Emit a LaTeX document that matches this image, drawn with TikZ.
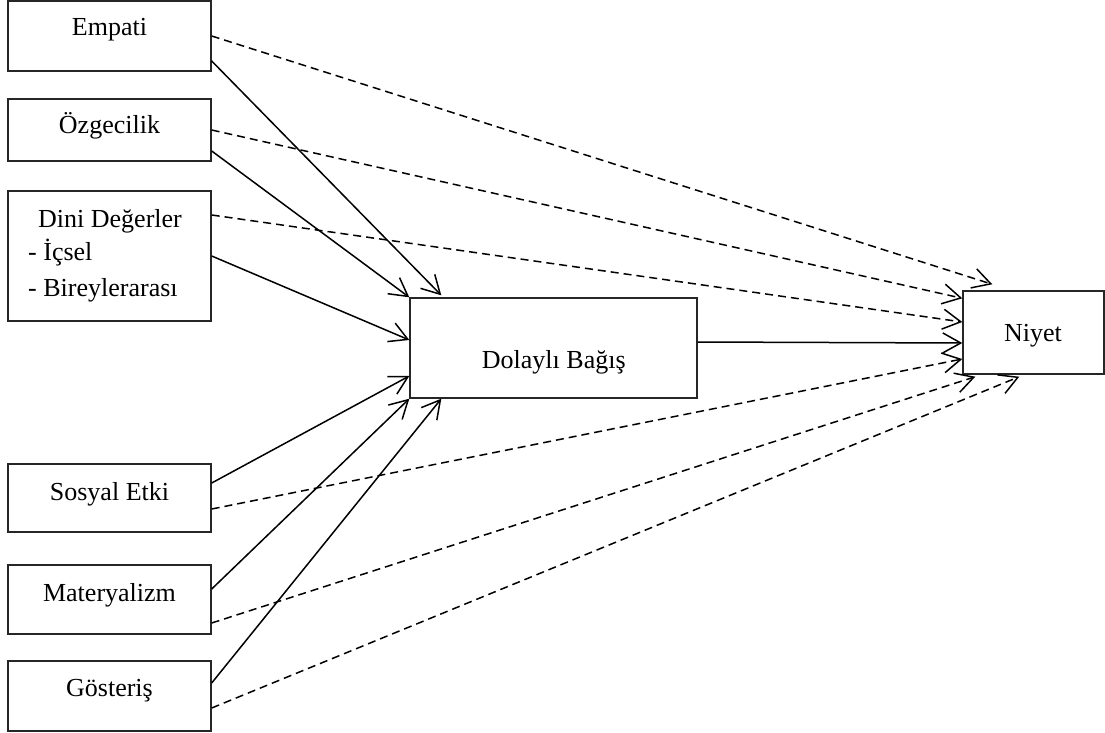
\documentclass[tikz,border=0pt]{standalone}
\usepackage{fontspec}
\setmainfont{Liberation Serif}
\usetikzlibrary{arrows.meta}
\begin{document}
\begin{tikzpicture}[x=1pt,y=-1pt,
  box/.style={draw=black!85, line width=1.4pt, rectangle, inner sep=0pt},
  txt/.style={anchor=base, inner sep=0pt, font=\fontsize{26}{34}\selectfont},
  ltxt/.style={txt, anchor=base west},
  link/.style={line width=1.5pt, line join=miter,
    -{Straight Barb[length=18pt,width=20pt,line width=1.5pt]}},
  direct/.style={link, dash pattern=on 8pt off 5pt}]
\useasboundingbox (0,0) rectangle (1105,733);

% predictor boxes
\node[box, minimum width=203pt, minimum height=70pt]  (emp)  at (109.5,36)  {};
\node[box, minimum width=203pt, minimum height=62pt]  (ozg)  at (109.5,130) {};
\node[box, minimum width=203pt, minimum height=130pt] (dini) at (109.5,256) {};
\node[box, minimum width=203pt, minimum height=68pt]  (sos)  at (109.5,498) {};
\node[box, minimum width=203pt, minimum height=69pt]  (mat)  at (109.5,599.5) {};
\node[box, minimum width=203pt, minimum height=70pt]  (gos)  at (109.5,696) {};

% mediator and outcome
\node[box, minimum width=287pt, minimum height=100pt] (dol) at (553.5,348) {};
\node[box, minimum width=141pt, minimum height=83pt]  (niy) at (1033.5,332.5) {};

% labels
\node[txt] (empT) at (109.5,36) {Empati};
\node[txt] (ozgT) at (109.5,133) {Özgecilik};
\node[txt] (diniT) at (110,227) {Dini Değerler};
\node[ltxt] (diniA) at (28,260) {- İçsel};
\node[ltxt] (diniB) at (28,296) {- Bireylerarası};
\node[txt] (sosT) at (109.5,500) {Sosyal Etki};
\node[txt] (matT) at (109.5,601) {Materyalizm};
\node[txt] (gosT) at (109.5,696) {Gösteriş};
\node[txt] (dolT) at (553.8,368) {Dolaylı Bağış};
\node[txt] (niyT) at (1033,341.5) {Niyet};

% paths through the mediator
\draw[link] ([yshift=-25pt]emp.east) -- ([xshift=32pt,yshift=2pt]dol.north west);
\draw[link] ([yshift=-21pt]ozg.east) -- (dol.north west);
\draw[link] (dini.east) -- ([yshift=8pt]dol.west);
\draw[link] ([yshift=15pt]sos.east) -- ([yshift=-28pt]dol.west);
\draw[link] ([yshift=10.5pt]mat.east) -- (dol.south west);
\draw[link] ([yshift=13pt]gos.east) -- ([xshift=32pt]dol.south west);
\draw[link] ([yshift=6pt]dol.east) -- ([yshift=-10.5pt]niy.west);

% direct paths to the outcome
\draw[direct] (emp.east) -- ([xshift=30pt,yshift=6pt]niy.north west);
\draw[direct] (ozg.east) -- ([yshift=-8pt]niy.north west);
\draw[direct] ([yshift=41pt]dini.east) -- ([yshift=10.5pt]niy.west);
\draw[direct] ([yshift=-11pt]sos.east) -- ([yshift=-26.5pt]niy.west);
\draw[direct] ([yshift=-23.5pt]mat.east) -- ([xshift=13pt,yshift=-2pt]niy.south west);
\draw[direct] ([yshift=-12pt]gos.east) -- ([xshift=57pt,yshift=-2pt]niy.south west);
\end{tikzpicture}
\end{document}
